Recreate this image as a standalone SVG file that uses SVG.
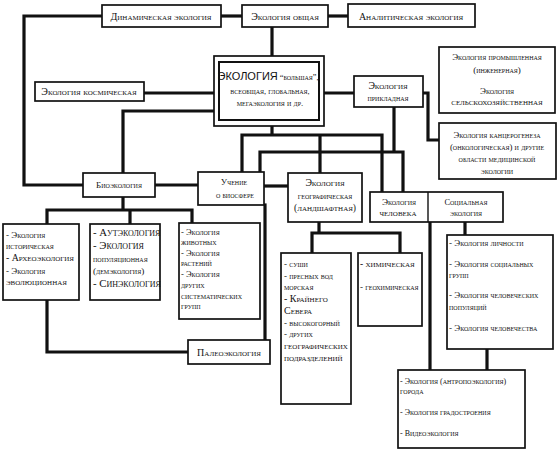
<svg xmlns="http://www.w3.org/2000/svg" width="559" height="455" viewBox="0 0 559 455">
<style>
.b{fill:#fff;stroke:#111;stroke-width:1.7}
.c{fill:none;stroke:#111;stroke-width:3.2;stroke-linecap:square;stroke-linejoin:miter}
text{font-family:"Liberation Serif","Times New Roman",serif;font-variant:small-caps;fill:#111}
.m{text-anchor:middle}
.big{font-family:"Liberation Sans",Arial,sans-serif;font-variant:normal;font-size:11px}
</style>
<rect width="559" height="455" fill="#fff"/>
<g id="connectors">
<path class="c" d="M102 16H24V185H83"/>
<path class="c" d="M221 16H242"/>
<path class="c" d="M328 16H348"/>
<path class="c" d="M272 27V56"/>
<path class="c" d="M144 93H214"/>
<path class="c" d="M324 93H354"/>
<path class="c" d="M214 111H123V173"/>
<path class="c" d="M423 93H428V140H439"/>
<path class="c" d="M155 185H198"/>
<path class="c" d="M264 186H288"/>
<path class="c" d="M272 126V135M242 172V135H382V192M320 135V173"/>
<path class="c" d="M394 107V152M260 172V152H403V192"/>
<path class="c" d="M123 197V210M47 224V210H192V223M130 210V224"/>
<path class="c" d="M47 300V352H188"/>
<path class="c" d="M265 205V340"/>
<path class="c" d="M319 222V233M312 253V233H400V253"/>
<path class="c" d="M430 222V370"/>
<path class="c" d="M465 222V235"/>
<path class="c" d="M487 349V370"/>
</g>
<g id="dinamicheskaya">
<rect class="b" x="102" y="5" width="119" height="22"/>
<text class="m" font-size="10" x="161" y="20">Динамическая экология</text>
</g>
<g id="obshaya">
<rect class="b" x="242" y="5" width="86" height="22"/>
<text class="m" font-size="10" x="285" y="20">Экология общая</text>
</g>
<g id="analiticheskaya">
<rect class="b" x="348" y="4" width="127" height="23"/>
<text class="m" font-size="10" x="411" y="20">Аналитическая экология</text>
</g>
<g id="kosmicheskaya">
<rect class="b" x="35" y="82" width="109" height="19"/>
<text class="m" font-size="10" x="89" y="95">Экология космическая</text>
</g>
<g id="central">
<rect class="b" x="214" y="56" width="110" height="70"/>
<rect class="b" x="219" y="62" width="100" height="58" style="stroke-width:2"/>
<text class="m" x="268" y="80"><tspan class="big">ЭКОЛОГИЯ</tspan><tspan font-size="8.2"> “большая”,</tspan></text>
<text class="m" font-size="8.4" x="270" y="94">всеобщая, глобальная,</text>
<text class="m" font-size="8.8" x="270" y="106">мегаэкология и др.</text>
</g>
<g id="prikladnaya">
<rect class="b" x="354" y="76" width="69" height="31"/>
<text class="m" font-size="9.8" x="388" y="89">Экология</text>
<text class="m" font-size="8" x="388" y="101">прикладная</text>
</g>
<g id="promyshlennaya">
<rect class="b" x="439" y="47" width="116" height="66"/>
<text class="m" font-size="9" x="497" y="60">Экология промышленная</text>
<text class="m" font-size="9" x="497" y="73">(инженерная)</text>
<text class="m" font-size="9" x="497" y="94">Экология</text>
<text class="m" font-size="9.3" x="497" y="105">сельскохозяйственная</text>
</g>
<g id="kanzerogenez">
<rect class="b" x="439" y="123" width="117" height="56"/>
<text class="m" font-size="8.7" x="497" y="138">Экология канцерогенеза</text>
<text class="m" font-size="8.8" x="497" y="150">(онкологическая) и другие</text>
<text class="m" font-size="8.8" x="497" y="162">области медицинской</text>
<text class="m" font-size="8.8" x="497" y="174">экологии</text>
</g>
<g id="bioekologiya">
<rect class="b" x="83" y="173" width="72" height="24"/>
<text class="m" font-size="9" x="119" y="188">Биоэкология</text>
</g>
<g id="uchenie">
<rect class="b" x="198" y="172" width="66" height="33"/>
<text class="m" font-size="9" x="234" y="185">Учение</text>
<text class="m" font-size="8.3" x="235" y="198">о биосфере</text>
</g>
<g id="geograficheskaya">
<rect class="b" x="288" y="173" width="74" height="49"/>
<text class="m" font-size="9.8" x="325" y="186">Экология</text>
<text class="m" font-size="8.6" x="325" y="199">географическая</text>
<text class="m" font-size="9.6" x="325" y="211">(ландшафтная)</text>
</g>
<g id="chelovek-social">
<rect class="b" x="370" y="192" width="133" height="30"/>
<path d="M428 192V222" stroke="#111" stroke-width="1.4"/>
<text class="m" font-size="9.2" x="399" y="205">Экология</text>
<text class="m" font-size="9.5" x="398" y="216">человека</text>
<text class="m" font-size="8.4" x="466" y="205">Социальная</text>
<text class="m" font-size="8.7" x="466" y="216">экология</text>
</g>
<g id="box-istoricheskaya">
<rect class="b" x="3" y="224" width="76" height="76"/>
<text font-size="9" x="6" y="238">- Экология</text>
<text font-size="9.2" x="6" y="249">историческая</text>
<text font-size="9.8" x="6" y="261">- Археоэкология</text>
<text font-size="9" x="6" y="274">- Экология</text>
<text font-size="9.3" x="6" y="285">эволюционная</text>
</g>
<g id="box-autekologiya">
<rect class="b" x="90" y="224" width="70" height="76"/>
<text font-size="10.8" x="93" y="236">- Аутэкология</text>
<text font-size="10.8" x="93" y="249">- Экология</text>
<text font-size="9.2" x="93" y="262">популяционная</text>
<text font-size="9.2" x="93" y="274">(демэкология)</text>
<text font-size="10.8" x="93" y="287">- Синэкология</text>
</g>
<g id="box-zhivotnyh">
<rect class="b" x="179" y="223" width="81" height="96"/>
<text font-size="8.5" x="181" y="235">- Экология</text>
<text font-size="9" x="181" y="245">животных</text>
<text font-size="8.5" x="181" y="256">- Экология</text>
<text font-size="9" x="181" y="266">растений</text>
<text font-size="8.5" x="181" y="277">- Экология</text>
<text font-size="9" x="181" y="288">других</text>
<text font-size="9" x="181" y="299">систематических</text>
<text font-size="9" x="181" y="309">групп</text>
</g>
<g id="box-sushi">
<rect class="b" x="281" y="253" width="70" height="151"/>
<text font-size="9" x="284" y="267">- суши</text>
<text font-size="9" x="284" y="279">- пресных вод</text>
<text font-size="9" x="284" y="290">морская</text>
<text font-size="10" x="284" y="302">- Крайнего</text>
<text font-size="10" x="284" y="314">Севера</text>
<text font-size="9" x="284" y="326">- высокогорный</text>
<text font-size="9" x="284" y="337">- других</text>
<text font-size="9.5" x="284" y="349">географических</text>
<text font-size="9.5" x="284" y="361">подразделений</text>
</g>
<g id="box-khimicheskaya">
<rect class="b" x="358" y="253" width="64" height="73"/>
<text font-size="9.4" x="360" y="267">- химическая</text>
<text font-size="9" x="360" y="290">- геохимическая</text>
</g>
<g id="box-lichnosti">
<rect class="b" x="447" y="235" width="106" height="114"/>
<text font-size="9" x="449" y="246">- Экология личности</text>
<text font-size="9" x="449" y="267">- Экология социальных</text>
<text font-size="9" x="449" y="278">групп</text>
<text font-size="9" x="449" y="298">- Экология человеческих</text>
<text font-size="9" x="449" y="310">популяций</text>
<text font-size="9" x="449" y="331">- Экология человечества</text>
</g>
<g id="paleoekologiya">
<rect class="b" x="188" y="340" width="82" height="24"/>
<text class="m" font-size="10" x="229" y="356">Палеоэкология</text>
</g>
<g id="box-goroda">
<rect class="b" x="398" y="370" width="127" height="78"/>
<text font-size="8" x="400" y="384">- Экология (антропоэкология)</text>
<text font-size="8" x="400" y="394">города</text>
<text font-size="8" x="400" y="415">- Экология градостроения</text>
<text font-size="8" x="400" y="436">- Видеоэкология</text>
</g>
</svg>
